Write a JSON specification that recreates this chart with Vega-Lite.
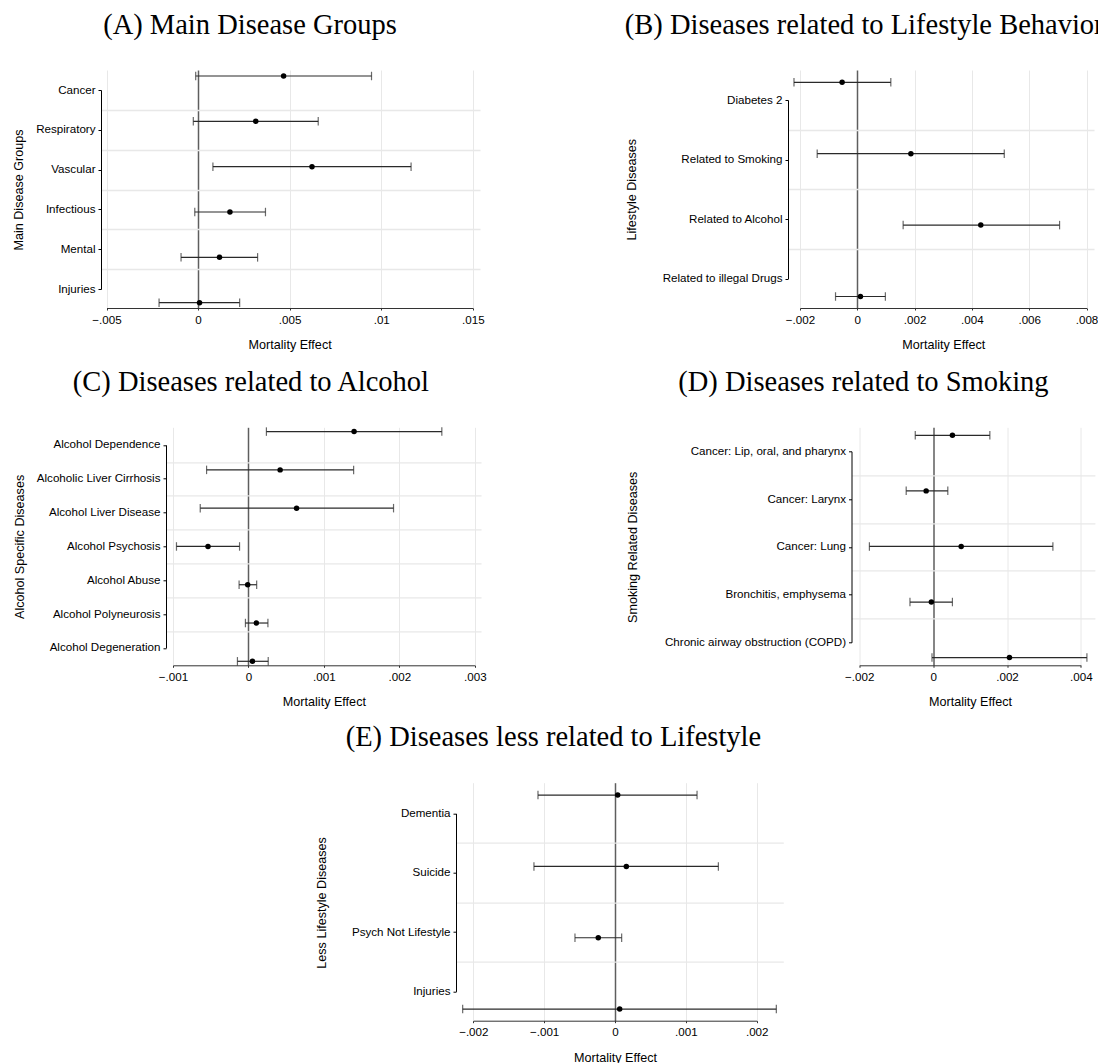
{
  "$schema": "https://vega.github.io/schema/vega-lite/v6.json",
  "padding": {"left": 12, "top": 10, "right": 0, "bottom": 0},
  "background": "white",
  "config": {
    "view": {"stroke": null},
    "font": "Liberation Sans",
    "axis": {"labelFont": "Liberation Sans", "titleFont": "Liberation Sans", "labelColor": "#000", "titleColor": "#000", "titleFontWeight": "normal", "labelFontSize": 11.6, "titleFontSize": 12.6}
  },
  "datasets": {
    "A": [
      {"name": "Cancer", "est": 0.00467, "lo": -0.00013, "hi": 0.00947},
      {"name": "Respiratory", "est": 0.00315, "lo": -0.00026, "hi": 0.00656},
      {"name": "Vascular", "est": 0.00622, "lo": 0.00081, "hi": 0.01163},
      {"name": "Infectious", "est": 0.00174, "lo": -0.00018, "hi": 0.00368},
      {"name": "Mental", "est": 0.00117, "lo": -0.00093, "hi": 0.00325},
      {"name": "Injuries", "est": 0.00008, "lo": -0.00213, "hi": 0.00227}
    ],
    "B": [
      {"name": "Diabetes 2", "est": -0.00053, "lo": -0.00221, "hi": 0.00117},
      {"name": "Related to Smoking", "est": 0.00187, "lo": -0.0014, "hi": 0.00513},
      {"name": "Related to Alcohol", "est": 0.00431, "lo": 0.0016, "hi": 0.00706},
      {"name": "Related to illegal Drugs", "est": 0.00011, "lo": -0.00076, "hi": 0.00098}
    ],
    "C": [
      {"name": "Alcohol Dependence", "est": 0.0014, "lo": 0.000238, "hi": 0.002563},
      {"name": "Alcoholic Liver Cirrhosis", "est": 0.00042, "lo": -0.000555, "hi": 0.001394},
      {"name": "Alcohol Liver Disease", "est": 0.000638, "lo": -0.000639, "hi": 0.001923},
      {"name": "Alcohol Psychosis", "est": -0.000536, "lo": -0.000954, "hi": -0.000118},
      {"name": "Alcohol Abuse", "est": -0.00001, "lo": -0.000124, "hi": 0.000109},
      {"name": "Alcohol Polyneurosis", "est": 0.000104, "lo": -0.00004, "hi": 0.000258},
      {"name": "Alcohol Degeneration", "est": 0.000053, "lo": -0.000146, "hi": 0.000262}
    ],
    "D": [
      {"name": "Cancer: Lip, oral, and pharynx", "est": 0.000523, "lo": -0.000483, "hi": 0.001536},
      {"name": "Cancer: Larynx", "est": -0.000188, "lo": -0.000728, "hi": 0.000398},
      {"name": "Cancer: Lung", "est": 0.00076, "lo": -0.001724, "hi": 0.003242},
      {"name": "Bronchitis, emphysema", "est": -0.000047, "lo": -0.000626, "hi": 0.000523},
      {"name": "Chronic airway obstruction (COPD)", "est": 0.002067, "lo": -0.00003, "hi": 0.004163}
    ],
    "E": [
      {"name": "Dementia", "est": 0.000038, "lo": -0.001087, "hi": 0.001158},
      {"name": "Suicide", "est": 0.00016, "lo": -0.001144, "hi": 0.001459},
      {"name": "Psych Not Lifestyle", "est": -0.000236, "lo": -0.000565, "hi": 0.000094},
      {"name": "Injuries", "est": 0.000066, "lo": -0.00215, "hi": 0.002277}
    ]
  },
  "vconcat": [
    {
      "vconcat": [
        {
          "hconcat": [
            {
              "width": 379, "height": 238,
              "title": {"text": "(A) Main Disease Groups", "anchor": "middle", "frame": "group", "dx": -40.5, "offset": 8, "baseline": "alphabetic", "font": "Liberation Serif", "fontSize": 28.5, "fontWeight": "normal", "color": "#000"},
              "data": {"name": "A"},
              "layer": [
                {"mark": {"type": "point", "opacity": 0, "size": 0},
                 "encoding": {
                   "x": {"field": "est", "type": "quantitative", "scale": {"domain": [-0.005, 0.015], "range": [0, 379], "nice": false, "zero": false}, "axis": null},
                   "y": {"field": "name", "type": "nominal", "sort": null, "scale": {"type": "point", "padding": 0, "range": [39.9, 238.9]},
                     "axis": {"orient": "left", "grid": true, "gridColor": "#e8e8e8", "gridWidth": 1.3, "labels": false, "ticks": false, "domain": false, "title": null, "values": ["Cancer", "Respiratory", "Vascular", "Infectious", "Mental"]}}
                 }},
                {"layer": [
                  {"mark": {"type": "point", "opacity": 0, "size": 0},
                   "encoding": {
                     "x": {"field": "est", "type": "quantitative", "title": "Mortality Effect", "scale": {"domain": [-0.005, 0.015], "range": [5.5, 371.8], "nice": false, "zero": false},
                       "axis": {"values": [-0.005, 0, 0.005, 0.01, 0.015], "grid": true, "gridColor": {"condition": {"test": "datum.value === 0", "value": "#5e5e5e"}, "value": "#e8e8e8"}, "gridWidth": {"condition": {"test": "datum.value === 0", "value": 1.5}, "value": 1}, "labelExpr": "datum.value === 0 ? '0' : replace(format(datum.value, '~g'), '0.', '.')", "labelFlush": false, "labelOverlap": false, "labelPadding": 4, "tickSize": 2, "tickColor": "#333", "domainColor": "#333", "title": "Mortality Effect", "titleBaseline": "alphabetic", "titleY": 40.5}},
                     "y": {"field": "name", "type": "nominal", "sort": null, "scale": {"type": "point", "padding": 0, "range": [0, 238]}, "axis": null}
                   }},
                  {"mark": {"type": "point", "opacity": 0, "size": 0},
                   "encoding": {
                     "x": {"field": "est", "type": "quantitative", "title": "Mortality Effect", "scale": {"domain": [-0.005, 0.015], "range": [5.5, 371.8], "nice": false, "zero": false}},
                     "y": {"field": "name", "type": "nominal", "sort": null, "scale": {"type": "point", "padding": 0, "range": [20, 219]},
                       "axis": {"orient": "left", "grid": false, "domainColor": "#000", "tickColor": "#000", "tickSize": 3, "labelPadding": 3, "labelLimit": 400, "labelOverlap": false, "title": "Main Disease Groups", "titleAngle": 270, "titleBaseline": "middle", "titleAlign": "center", "titleX": -82.3, "titleY": 119.5}}
                   }},
                  {"encoding": {"y": {"field": "name", "type": "nominal", "sort": null, "scale": {"type": "point", "padding": 0, "range": [6, 232.7]}, "axis": null}},
                   "layer": [
                     {"mark": {"type": "rule", "color": "#2a2a2a", "strokeWidth": 1.2}, "encoding": {"x": {"field": "lo", "type": "quantitative", "title": "Mortality Effect", "scale": {"domain": [-0.005, 0.015], "range": [5.5, 371.8], "nice": false, "zero": false}}, "x2": {"field": "hi"}}},
                     {"mark": {"type": "tick", "orient": "vertical", "color": "#2a2a2a", "size": 8.5, "thickness": 1.2}, "encoding": {"x": {"field": "lo", "type": "quantitative", "title": "Mortality Effect", "scale": {"domain": [-0.005, 0.015], "range": [5.5, 371.8], "nice": false, "zero": false}}}},
                     {"mark": {"type": "tick", "orient": "vertical", "color": "#2a2a2a", "size": 8.5, "thickness": 1.2}, "encoding": {"x": {"field": "hi", "type": "quantitative", "title": "Mortality Effect", "scale": {"domain": [-0.005, 0.015], "range": [5.5, 371.8], "nice": false, "zero": false}}}},
                     {"mark": {"type": "circle", "color": "#000", "size": 30, "opacity": 1}, "encoding": {"x": {"field": "est", "type": "quantitative", "title": "Mortality Effect", "scale": {"domain": [-0.005, 0.015], "range": [5.5, 371.8], "nice": false, "zero": false}}}}
                   ]}
                 ],
                 "resolve": {"scale": {"y": "independent"}, "axis": {"y": "independent"}}}
              ],
              "resolve": {"scale": {"x": "independent", "y": "independent"}, "axis": {"x": "independent", "y": "independent"}}
            },
            {
              "width": 306, "height": 238,
              "title": {"text": "(B) Diseases related to Lifestyle Behavior", "anchor": "start", "frame": "group", "dx": -163.2, "offset": 8, "baseline": "alphabetic", "font": "Liberation Serif", "fontSize": 28.5, "fontWeight": "normal", "color": "#000"},
              "data": {"name": "B"},
              "layer": [
                {"mark": {"type": "point", "opacity": 0, "size": 0},
                 "encoding": {
                   "x": {"field": "est", "type": "quantitative", "scale": {"domain": [-0.002, 0.008], "range": [0, 306], "nice": false, "zero": false}, "axis": null},
                   "y": {"field": "name", "type": "nominal", "sort": null, "scale": {"type": "point", "padding": 0, "range": [59.75, 238.25]},
                     "axis": {"orient": "left", "grid": true, "gridColor": "#e8e8e8", "gridWidth": 1.3, "labels": false, "ticks": false, "domain": false, "title": null, "values": ["Diabetes 2", "Related to Smoking", "Related to Alcohol"]}}
                 }},
                {"layer": [
                  {"mark": {"type": "point", "opacity": 0, "size": 0},
                   "encoding": {
                     "x": {"field": "est", "type": "quantitative", "title": "Mortality Effect", "scale": {"domain": [-0.002, 0.008], "range": [12, 298.5], "nice": false, "zero": false},
                       "axis": {"values": [-0.002, 0, 0.002, 0.004, 0.006, 0.008], "grid": true, "gridColor": {"condition": {"test": "datum.value === 0", "value": "#5e5e5e"}, "value": "#e8e8e8"}, "gridWidth": {"condition": {"test": "datum.value === 0", "value": 1.5}, "value": 1}, "labelExpr": "datum.value === 0 ? '0' : replace(format(datum.value, '~g'), '0.', '.')", "labelFlush": false, "labelOverlap": false, "labelPadding": 4, "tickSize": 2, "tickColor": "#333", "domainColor": "#333", "title": "Mortality Effect", "titleBaseline": "alphabetic", "titleY": 40.5}},
                     "y": {"field": "name", "type": "nominal", "sort": null, "scale": {"type": "point", "padding": 0, "range": [0, 238]}, "axis": null}
                   }},
                  {"mark": {"type": "point", "opacity": 0, "size": 0},
                   "encoding": {
                     "x": {"field": "est", "type": "quantitative", "title": "Mortality Effect", "scale": {"domain": [-0.002, 0.008], "range": [12, 298.5], "nice": false, "zero": false}},
                     "y": {"field": "name", "type": "nominal", "sort": null, "scale": {"type": "point", "padding": 0, "range": [30, 208.5]},
                       "axis": {"orient": "left", "grid": false, "domainColor": "#000", "tickColor": "#000", "tickSize": 3, "labelPadding": 3, "labelLimit": 400, "labelOverlap": false, "title": "Lifestyle Diseases", "titleAngle": 270, "titleBaseline": "middle", "titleAlign": "center", "titleX": -156.9, "titleY": 119.2}}
                   }},
                  {"encoding": {"y": {"field": "name", "type": "nominal", "sort": null, "scale": {"type": "point", "padding": 0, "range": [12.3, 226.5]}, "axis": null}},
                   "layer": [
                     {"mark": {"type": "rule", "color": "#2a2a2a", "strokeWidth": 1.2}, "encoding": {"x": {"field": "lo", "type": "quantitative", "title": "Mortality Effect", "scale": {"domain": [-0.002, 0.008], "range": [12, 298.5], "nice": false, "zero": false}}, "x2": {"field": "hi"}}},
                     {"mark": {"type": "tick", "orient": "vertical", "color": "#2a2a2a", "size": 8.5, "thickness": 1.2}, "encoding": {"x": {"field": "lo", "type": "quantitative", "title": "Mortality Effect", "scale": {"domain": [-0.002, 0.008], "range": [12, 298.5], "nice": false, "zero": false}}}},
                     {"mark": {"type": "tick", "orient": "vertical", "color": "#2a2a2a", "size": 8.5, "thickness": 1.2}, "encoding": {"x": {"field": "hi", "type": "quantitative", "title": "Mortality Effect", "scale": {"domain": [-0.002, 0.008], "range": [12, 298.5], "nice": false, "zero": false}}}},
                     {"mark": {"type": "circle", "color": "#000", "size": 30, "opacity": 1}, "encoding": {"x": {"field": "est", "type": "quantitative", "title": "Mortality Effect", "scale": {"domain": [-0.002, 0.008], "range": [12, 298.5], "nice": false, "zero": false}}}}
                   ]}
                 ],
                 "resolve": {"scale": {"y": "independent"}, "axis": {"y": "independent"}}}
              ],
              "resolve": {"scale": {"x": "independent", "y": "independent"}, "axis": {"x": "independent", "y": "independent"}}
            }
          ],
          "spacing": 308, "align": "none", "bounds": "flush"
        },
        {
          "hconcat": [
            {"data": {"values": []}, "mark": "point", "width": 64.1, "height": 1},
            {
              "hconcat": [
                {
                  "width": 315, "height": 238,
                  "title": {"text": "(C) Diseases related to Alcohol", "anchor": "middle", "frame": "group", "dx": -72.6, "offset": 8, "baseline": "alphabetic", "font": "Liberation Serif", "fontSize": 28.5, "fontWeight": "normal", "color": "#000"},
                  "data": {"name": "C"},
                  "layer": [
                    {"mark": {"type": "point", "opacity": 0, "size": 0},
                     "encoding": {
                       "x": {"field": "est", "type": "quantitative", "scale": {"domain": [-0.001, 0.003], "range": [0, 315], "nice": false, "zero": false}, "axis": null},
                       "y": {"field": "name", "type": "nominal", "sort": null, "scale": {"type": "point", "padding": 0, "range": [34.52, 237.52]},
                         "axis": {"orient": "left", "grid": true, "gridColor": "#e8e8e8", "gridWidth": 1.3, "labels": false, "ticks": false, "domain": false, "title": null, "values": ["Alcohol Dependence", "Alcoholic Liver Cirrhosis", "Alcohol Liver Disease", "Alcohol Psychosis", "Alcohol Abuse", "Alcohol Polyneurosis"]}}
                     }},
                    {"layer": [
                      {"mark": {"type": "point", "opacity": 0, "size": 0},
                       "encoding": {
                         "x": {"field": "est", "type": "quantitative", "title": "Mortality Effect", "scale": {"domain": [-0.001, 0.003], "range": [7, 308.8], "nice": false, "zero": false},
                           "axis": {"values": [-0.001, 0, 0.001, 0.002, 0.003], "grid": true, "gridColor": {"condition": {"test": "datum.value === 0", "value": "#5e5e5e"}, "value": "#e8e8e8"}, "gridWidth": {"condition": {"test": "datum.value === 0", "value": 1.5}, "value": 1}, "labelExpr": "datum.value === 0 ? '0' : replace(format(datum.value, '~g'), '0.', '.')", "labelFlush": false, "labelOverlap": false, "labelPadding": 4, "tickSize": 2, "tickColor": "#333", "domainColor": "#333", "title": "Mortality Effect", "titleBaseline": "alphabetic", "titleY": 40.5}},
                         "y": {"field": "name", "type": "nominal", "sort": null, "scale": {"type": "point", "padding": 0, "range": [0, 238]}, "axis": null}
                       }},
                      {"mark": {"type": "point", "opacity": 0, "size": 0},
                       "encoding": {
                         "x": {"field": "est", "type": "quantitative", "title": "Mortality Effect", "scale": {"domain": [-0.001, 0.003], "range": [7, 308.8], "nice": false, "zero": false}},
                         "y": {"field": "name", "type": "nominal", "sort": null, "scale": {"type": "point", "padding": 0, "range": [17.6, 220.6]},
                           "axis": {"orient": "left", "grid": false, "domainColor": "#000", "tickColor": "#000", "tickSize": 3, "labelPadding": 3, "labelLimit": 400, "labelOverlap": false, "title": "Alcohol Specific Diseases", "titleAngle": 270, "titleBaseline": "middle", "titleAlign": "center", "titleX": -146.4, "titleY": 119.1}}
                       }},
                      {"encoding": {"y": {"field": "name", "type": "nominal", "sort": null, "scale": {"type": "point", "padding": 0, "range": [4.3, 234]}, "axis": null}},
                       "layer": [
                         {"mark": {"type": "rule", "color": "#2a2a2a", "strokeWidth": 1.2}, "encoding": {"x": {"field": "lo", "type": "quantitative", "title": "Mortality Effect", "scale": {"domain": [-0.001, 0.003], "range": [7, 308.8], "nice": false, "zero": false}}, "x2": {"field": "hi"}}},
                         {"mark": {"type": "tick", "orient": "vertical", "color": "#2a2a2a", "size": 8.5, "thickness": 1.2}, "encoding": {"x": {"field": "lo", "type": "quantitative", "title": "Mortality Effect", "scale": {"domain": [-0.001, 0.003], "range": [7, 308.8], "nice": false, "zero": false}}}},
                         {"mark": {"type": "tick", "orient": "vertical", "color": "#2a2a2a", "size": 8.5, "thickness": 1.2}, "encoding": {"x": {"field": "hi", "type": "quantitative", "title": "Mortality Effect", "scale": {"domain": [-0.001, 0.003], "range": [7, 308.8], "nice": false, "zero": false}}}},
                         {"mark": {"type": "circle", "color": "#000", "size": 30, "opacity": 1}, "encoding": {"x": {"field": "est", "type": "quantitative", "title": "Mortality Effect", "scale": {"domain": [-0.001, 0.003], "range": [7, 308.8], "nice": false, "zero": false}}}}
                       ]}
                     ],
                     "resolve": {"scale": {"y": "independent"}, "axis": {"y": "independent"}}}
                  ],
                  "resolve": {"scale": {"x": "independent", "y": "independent"}, "axis": {"x": "independent", "y": "independent"}}
                },
                {
                  "width": 243.4, "height": 238,
                  "title": {"text": "(D) Diseases related to Smoking", "anchor": "middle", "frame": "group", "dx": -109.8, "offset": 8, "baseline": "alphabetic", "font": "Liberation Serif", "fontSize": 28.5, "fontWeight": "normal", "color": "#000"},
                  "data": {"name": "D"},
                  "layer": [
                    {"mark": {"type": "point", "opacity": 0, "size": 0},
                     "encoding": {
                       "x": {"field": "est", "type": "quantitative", "scale": {"domain": [-0.002, 0.004], "range": [0, 243.4], "nice": false, "zero": false}, "axis": null},
                       "y": {"field": "name", "type": "nominal", "sort": null, "scale": {"type": "point", "padding": 0, "range": [47.875, 238.875]},
                         "axis": {"orient": "left", "grid": true, "gridColor": "#e8e8e8", "gridWidth": 1.3, "labels": false, "ticks": false, "domain": false, "title": null, "values": ["Cancer: Lip, oral, and pharynx", "Cancer: Larynx", "Cancer: Lung", "Bronchitis, emphysema"]}}
                     }},
                    {"layer": [
                      {"mark": {"type": "point", "opacity": 0, "size": 0},
                       "encoding": {
                         "x": {"field": "est", "type": "quantitative", "title": "Mortality Effect", "scale": {"domain": [-0.002, 0.004], "range": [7.7, 229.4], "nice": false, "zero": false},
                           "axis": {"values": [-0.002, 0, 0.002, 0.004], "grid": true, "gridColor": {"condition": {"test": "datum.value === 0", "value": "#5e5e5e"}, "value": "#e8e8e8"}, "gridWidth": {"condition": {"test": "datum.value === 0", "value": 1.5}, "value": 1}, "labelExpr": "datum.value === 0 ? '0' : replace(format(datum.value, '~g'), '0.', '.')", "labelFlush": false, "labelOverlap": false, "labelPadding": 4, "tickSize": 2, "tickColor": "#333", "domainColor": "#333", "title": "Mortality Effect", "titleBaseline": "alphabetic", "titleY": 40.5}},
                         "y": {"field": "name", "type": "nominal", "sort": null, "scale": {"type": "point", "padding": 0, "range": [0, 238]}, "axis": null}
                       }},
                      {"mark": {"type": "point", "opacity": 0, "size": 0},
                       "encoding": {
                         "x": {"field": "est", "type": "quantitative", "title": "Mortality Effect", "scale": {"domain": [-0.002, 0.004], "range": [7.7, 229.4], "nice": false, "zero": false}},
                         "y": {"field": "name", "type": "nominal", "sort": null, "scale": {"type": "point", "padding": 0, "range": [24, 215]},
                           "axis": {"orient": "left", "grid": false, "domainColor": "#000", "tickColor": "#000", "tickSize": 3, "labelPadding": 3, "labelLimit": 400, "labelOverlap": false, "title": "Smoking Related Diseases", "titleAngle": 270, "titleBaseline": "middle", "titleAlign": "center", "titleX": -218.8, "titleY": 119.5}}
                       }},
                      {"encoding": {"y": {"field": "name", "type": "nominal", "sort": null, "scale": {"type": "point", "padding": 0, "range": [8, 230.3]}, "axis": null}},
                       "layer": [
                         {"mark": {"type": "rule", "color": "#2a2a2a", "strokeWidth": 1.2}, "encoding": {"x": {"field": "lo", "type": "quantitative", "title": "Mortality Effect", "scale": {"domain": [-0.002, 0.004], "range": [7.7, 229.4], "nice": false, "zero": false}}, "x2": {"field": "hi"}}},
                         {"mark": {"type": "tick", "orient": "vertical", "color": "#2a2a2a", "size": 8.5, "thickness": 1.2}, "encoding": {"x": {"field": "lo", "type": "quantitative", "title": "Mortality Effect", "scale": {"domain": [-0.002, 0.004], "range": [7.7, 229.4], "nice": false, "zero": false}}}},
                         {"mark": {"type": "tick", "orient": "vertical", "color": "#2a2a2a", "size": 8.5, "thickness": 1.2}, "encoding": {"x": {"field": "hi", "type": "quantitative", "title": "Mortality Effect", "scale": {"domain": [-0.002, 0.004], "range": [7.7, 229.4], "nice": false, "zero": false}}}},
                         {"mark": {"type": "circle", "color": "#000", "size": 30, "opacity": 1}, "encoding": {"x": {"field": "est", "type": "quantitative", "title": "Mortality Effect", "scale": {"domain": [-0.002, 0.004], "range": [7.7, 229.4], "nice": false, "zero": false}}}}
                       ]}
                     ],
                     "resolve": {"scale": {"y": "independent"}, "axis": {"y": "independent"}}}
                  ],
                  "resolve": {"scale": {"x": "independent", "y": "independent"}, "axis": {"x": "independent", "y": "independent"}}
                }
              ],
              "spacing": 370.5, "align": "none", "bounds": "flush"
            }
          ],
          "spacing": 0, "align": "none", "bounds": "flush"
        }
      ],
      "spacing": 15.3, "bounds": "full"
    },
    {
      "hconcat": [
        {"data": {"values": []}, "mark": "point", "width": 354.5, "height": 1},
        {
          "width": 327.3, "height": 238,
          "title": {"text": "(E) Diseases less related to Lifestyle", "anchor": "middle", "frame": "group", "dx": -66.2, "offset": 8, "baseline": "alphabetic", "font": "Liberation Serif", "fontSize": 28.5, "fontWeight": "normal", "color": "#000"},
          "data": {"name": "E"},
          "layer": [
            {"mark": {"type": "point", "opacity": 0, "size": 0},
             "encoding": {
               "x": {"field": "est", "type": "quantitative", "scale": {"domain": [-0.002, 0.002], "range": [0, 327.3], "nice": false, "zero": false}, "axis": null},
               "y": {"field": "name", "type": "nominal", "sort": null, "scale": {"type": "point", "padding": 0, "range": [60.37, 238.37]},
                 "axis": {"orient": "left", "grid": true, "gridColor": "#e8e8e8", "gridWidth": 1.3, "labels": false, "ticks": false, "domain": false, "title": null, "values": ["Dementia", "Suicide", "Psych Not Lifestyle"]}}
             }},
            {"layer": [
              {"mark": {"type": "point", "opacity": 0, "size": 0},
               "encoding": {
                 "x": {"field": "est", "type": "quantitative", "title": "Mortality Effect", "scale": {"domain": [-0.002, 0.002], "range": [17.3, 300.7], "nice": false, "zero": false},
                   "axis": {"values": [-0.002, -0.001, 0, 0.001, 0.002], "grid": true, "gridColor": {"condition": {"test": "datum.value === 0", "value": "#5e5e5e"}, "value": "#e8e8e8"}, "gridWidth": {"condition": {"test": "datum.value === 0", "value": 1.5}, "value": 1}, "labelExpr": "datum.value === 0 ? '0' : replace(format(datum.value, '~g'), '0.', '.')", "labelFlush": false, "labelOverlap": false, "labelPadding": 4, "tickSize": 2, "tickColor": "#333", "domainColor": "#333", "title": "Mortality Effect", "titleBaseline": "alphabetic", "titleY": 40.5}},
                 "y": {"field": "name", "type": "nominal", "sort": null, "scale": {"type": "point", "padding": 0, "range": [0, 238]}, "axis": null}
               }},
              {"mark": {"type": "point", "opacity": 0, "size": 0},
               "encoding": {
                 "x": {"field": "est", "type": "quantitative", "title": "Mortality Effect", "scale": {"domain": [-0.002, 0.002], "range": [17.3, 300.7], "nice": false, "zero": false}},
                 "y": {"field": "name", "type": "nominal", "sort": null, "scale": {"type": "point", "padding": 0, "range": [30.7, 208.7]},
                   "axis": {"orient": "left", "grid": false, "domainColor": "#000", "tickColor": "#000", "tickSize": 3, "labelPadding": 3, "labelLimit": 400, "labelOverlap": false, "title": "Less Lifestyle Diseases", "titleAngle": 270, "titleBaseline": "middle", "titleAlign": "center", "titleX": -134.3, "titleY": 119.7}}
               }},
              {"encoding": {"y": {"field": "name", "type": "nominal", "sort": null, "scale": {"type": "point", "padding": 0, "range": [12.4, 226.4]}, "axis": null}},
               "layer": [
                 {"mark": {"type": "rule", "color": "#2a2a2a", "strokeWidth": 1.2}, "encoding": {"x": {"field": "lo", "type": "quantitative", "title": "Mortality Effect", "scale": {"domain": [-0.002, 0.002], "range": [17.3, 300.7], "nice": false, "zero": false}}, "x2": {"field": "hi"}}},
                 {"mark": {"type": "tick", "orient": "vertical", "color": "#2a2a2a", "size": 8.5, "thickness": 1.2}, "encoding": {"x": {"field": "lo", "type": "quantitative", "title": "Mortality Effect", "scale": {"domain": [-0.002, 0.002], "range": [17.3, 300.7], "nice": false, "zero": false}}}},
                 {"mark": {"type": "tick", "orient": "vertical", "color": "#2a2a2a", "size": 8.5, "thickness": 1.2}, "encoding": {"x": {"field": "hi", "type": "quantitative", "title": "Mortality Effect", "scale": {"domain": [-0.002, 0.002], "range": [17.3, 300.7], "nice": false, "zero": false}}}},
                 {"mark": {"type": "circle", "color": "#000", "size": 30, "opacity": 1}, "encoding": {"x": {"field": "est", "type": "quantitative", "title": "Mortality Effect", "scale": {"domain": [-0.002, 0.002], "range": [17.3, 300.7], "nice": false, "zero": false}}}}
               ]}
             ],
             "resolve": {"scale": {"y": "independent"}, "axis": {"y": "independent"}}}
          ],
          "resolve": {"scale": {"x": "independent", "y": "independent"}, "axis": {"x": "independent", "y": "independent"}}
        }
      ],
      "spacing": 0, "align": "none", "bounds": "flush"
    }
  ],
  "spacing": 13.7, "bounds": "full"
}
